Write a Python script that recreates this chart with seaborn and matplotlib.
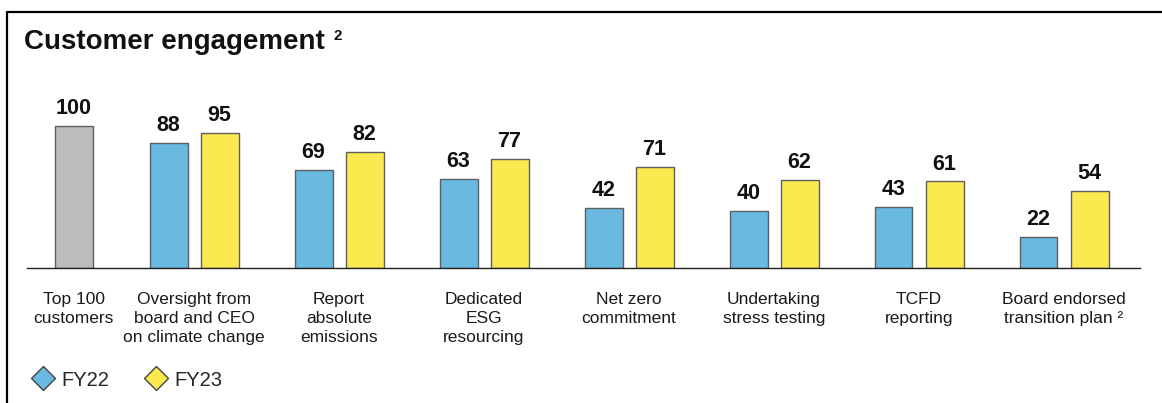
import numpy as np
import pandas as pd
import matplotlib
matplotlib.use("Agg")
import matplotlib.pyplot as plt
import seaborn as sns
from matplotlib.lines import Line2D

# ---- data -------------------------------------------------------------
categories = [
    "Top 100\ncustomers",
    "Oversight from\nboard and CEO\non climate change",
    "Report\nabsolute\nemissions",
    "Dedicated\nESG\nresourcing",
    "Net zero\ncommitment",
    "Undertaking\nstress testing",
    "TCFD\nreporting",
    "Board endorsed\ntransition plan \u00b2",
]
top100 = [100]
fy22 = [88, 69, 63, 42, 40, 43, 22]
fy23 = [95, 82, 77, 71, 62, 61, 54]
years = ["FY22", "FY23"]

# ---- style ------------------------------------------------------------
GREY = "#bcbcbc"
BLUE = "#69b9e1"
YELLOW = "#fbe94f"
EDGE = "#5f5f5f"
INK = "#111111"

sns.set_theme(style="white")
plt.rcParams["font.family"] = ["Liberation Sans", "DejaVu Sans"]

W, H = 1162, 403
fig = plt.figure(figsize=(W / 100, H / 100), dpi=100)
ax = fig.add_axes([27 / W, 1 - 268 / H, 1113 / W, 156 / H])

# group centres on a numeric axis; the single "Top 100" bar sits a bit closer
groups = np.arange(1, len(fy22) + 1)
top_pos = 0.17
offset = 0.176
bar_w = 0.262

df_top = pd.DataFrame({"pos": [top_pos], "value": top100})
df22 = pd.DataFrame({"pos": groups - offset, "value": fy22})
df23 = pd.DataFrame({"pos": groups + offset, "value": fy23})

common = dict(x="pos", y="value", native_scale=True, width=bar_w,
              errorbar=None, saturation=1, edgecolor=EDGE, linewidth=1.0, ax=ax)
sns.barplot(data=df_top, color=GREY, **common)
sns.barplot(data=df22, color=BLUE, **common)
sns.barplot(data=df23, color=YELLOW, **common)

for cont in ax.containers:
    ax.bar_label(cont, fmt="%d", padding=5, fontsize=15.5, fontweight="bold",
                 color=INK)

ax.set_xlim(-0.152, 7.524)
ax.set_ylim(0, 110)
ax.set_xticks([top_pos, *groups])
ax.set_xticklabels(categories, fontsize=12.5, color="#1a1a1a", linespacing=1.36,
                   va="top")
ax.tick_params(axis="x", length=0, pad=17)
ax.set_yticks([])
ax.set_xlabel("")
ax.set_ylabel("")
for side in ("left", "top", "right"):
    ax.spines[side].set_visible(False)
ax.spines["bottom"].set_color("#222222")
ax.spines["bottom"].set_linewidth(1.0)

# ---- title & frame ----------------------------------------------------
fig.text(24 / W, 1 - 42 / H, "Customer engagement", fontsize=20,
         fontweight="bold", color=INK, va="center", ha="left")
fig.text(333 / W, 1 - 36 / H, "2", fontsize=11, fontweight="bold",
         color=INK, va="center", ha="left")

fig.add_artist(Line2D([7 / W, 1], [1 - 12 / H] * 2, transform=fig.transFigure,
                      color="black", lw=1.6))
fig.add_artist(Line2D([7 / W] * 2, [0, 1 - 12 / H], transform=fig.transFigure,
                      color="black", lw=1.6))

# ---- legend -----------------------------------------------------------
handles = [
    Line2D([], [], marker="D", ls="", markersize=12, markerfacecolor=c,
           markeredgecolor="#444444", markeredgewidth=1.0, label=lab)
    for c, lab in zip([BLUE, YELLOW], years)
]
fig.legend(handles=handles, loc="center left",
           bbox_to_anchor=(31 / W, 1 - 380 / H), ncol=2, frameon=False,
           fontsize=14.5, handletextpad=0.3, columnspacing=1.75,
           borderaxespad=0, borderpad=0, handlelength=1.2)

fig.savefig("out.png", dpi=100)
